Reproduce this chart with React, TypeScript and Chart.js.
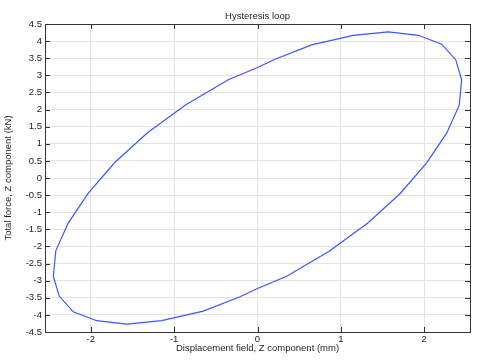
import React, { useEffect, useRef } from "react";
import { Chart, registerables } from "chart.js";

Chart.register(...registerables);

const displacementMm: number[] = [
  -2.45, -2.42, -2.27, -2.03, -1.71, -1.32, -0.86, -0.35, 0.0, 0.21, 0.65, 1.15, 1.57, 1.93, 2.21, 2.38,
  2.45, 2.42, 2.27, 2.03, 1.71, 1.32, 0.86, 0.35, 0.0, -0.21, -0.65, -1.15, -1.57, -1.93, -2.21, -2.38, -2.45,
];
const forceKN: number[] = [
  -2.87, -2.12, -1.31, -0.44, 0.46, 1.32, 2.14, 2.87, 3.23, 3.47, 3.89, 4.17, 4.27, 4.17, 3.91, 3.45,
  2.87, 2.12, 1.31, 0.44, -0.46, -1.32, -2.14, -2.87, -3.23, -3.47, -3.89, -4.17, -4.27, -4.17, -3.91, -3.45, -2.87,
];
const xTickValues: number[] = [-2, -1, 0, 1, 2];
const titleText = "Hysteresis loop";
const xTitle = "Displacement field, Z component (mm)";
const yTitle = "Total force, Z component (kN)";

const FONT = "'Liberation Sans', Arial, sans-serif";
const TEXT = "#1e1e1e";
const FS = 9.5;

const framePlugin = {
  id: "frameAndTitles",
  afterDraw(chart: any) {
    const { ctx, chartArea } = chart;
    const { left, right, top, bottom } = chartArea;
    const xs = chart.scales.x;
    const ys = chart.scales.y;
    ctx.save();
    ctx.strokeStyle = "#333";
    ctx.lineWidth = 1;
    ctx.strokeRect(Math.round(left) + 0.5, Math.round(top) + 0.5, Math.round(right - left), Math.round(bottom - top));
    const tl = 5;
    ctx.beginPath();
    xs.ticks.forEach((t: any) => {
      const px = Math.round(xs.getPixelForValue(t.value)) + 0.5;
      ctx.moveTo(px, bottom);
      ctx.lineTo(px, bottom - tl);
      ctx.moveTo(px, top);
      ctx.lineTo(px, top + tl);
    });
    ys.ticks.forEach((t: any) => {
      const py = Math.round(ys.getPixelForValue(t.value)) + 0.5;
      ctx.moveTo(left, py);
      ctx.lineTo(left + tl, py);
      ctx.moveTo(right, py);
      ctx.lineTo(right - tl, py);
    });
    ctx.stroke();

    ctx.fillStyle = TEXT;
    ctx.font = `${FS}px ${FONT}`;
    ctx.textAlign = "center";
    ctx.textBaseline = "middle";
    const cx = (left + right) / 2;
    ctx.fillText(titleText, cx, 16);
    ctx.fillText(xTitle, cx, 348);
    ctx.save();
    ctx.translate(8, (top + bottom) / 2);
    ctx.rotate(-Math.PI / 2);
    ctx.fillText(yTitle, 0, 0);
    ctx.restore();
    ctx.restore();
  },
};

export default function App() {
  const ref = useRef<HTMLCanvasElement | null>(null);
  useEffect(() => {
    if (!ref.current) return;
    const data = displacementMm.map((x, i) => ({ x, y: forceKN[i] }));
    const chart = new Chart(ref.current, {
      type: "scatter",
      data: {
        datasets: [
          {
            data,
            showLine: true,
            borderColor: "rgb(60,85,255)",
            borderWidth: 1.2,
            pointRadius: 0,
            tension: 0,
            fill: false,
          },
        ],
      },
      options: {
        responsive: false,
        animation: false,
        layout: { padding: { top: 24, right: 10, left: 0, bottom: 0 } },
        plugins: { legend: { display: false }, tooltip: { enabled: false }, title: { display: false } },
        scales: {
          x: {
            type: "linear",
            min: -2.55,
            max: 2.55,
            afterBuildTicks: (scale: any) => {
              scale.ticks = xTickValues.map((v) => ({ value: v }));
            },
            afterFit: (scale: any) => {
              scale.height = 32;
            },
            grid: { color: "#e4e4e4", drawTicks: false },
            border: { display: false },
            ticks: {
              color: TEXT,
              font: { size: FS, family: FONT },
              padding: 2,
              callback: (v: any) => String(Number(v)),
            },
          },
          y: {
            type: "linear",
            min: -4.5,
            max: 4.5,
            afterFit: (scale: any) => {
              scale.width = 45;
            },
            grid: { color: "#e4e4e4", drawTicks: false },
            border: { display: false },
            ticks: {
              color: TEXT,
              font: { size: FS, family: FONT },
              padding: 3,
              stepSize: 0.5,
              callback: (v: any) => String(Number(v)),
            },
          },
        },
      },
      plugins: [framePlugin],
    });
    return () => chart.destroy();
  }, []);
  return (
    <div style={{ position: "fixed", left: 0, top: 0, width: 480, height: 364, background: "#fff" }}>
      <canvas ref={ref} width={480} height={364} style={{ display: "block" }} />
    </div>
  );
}
